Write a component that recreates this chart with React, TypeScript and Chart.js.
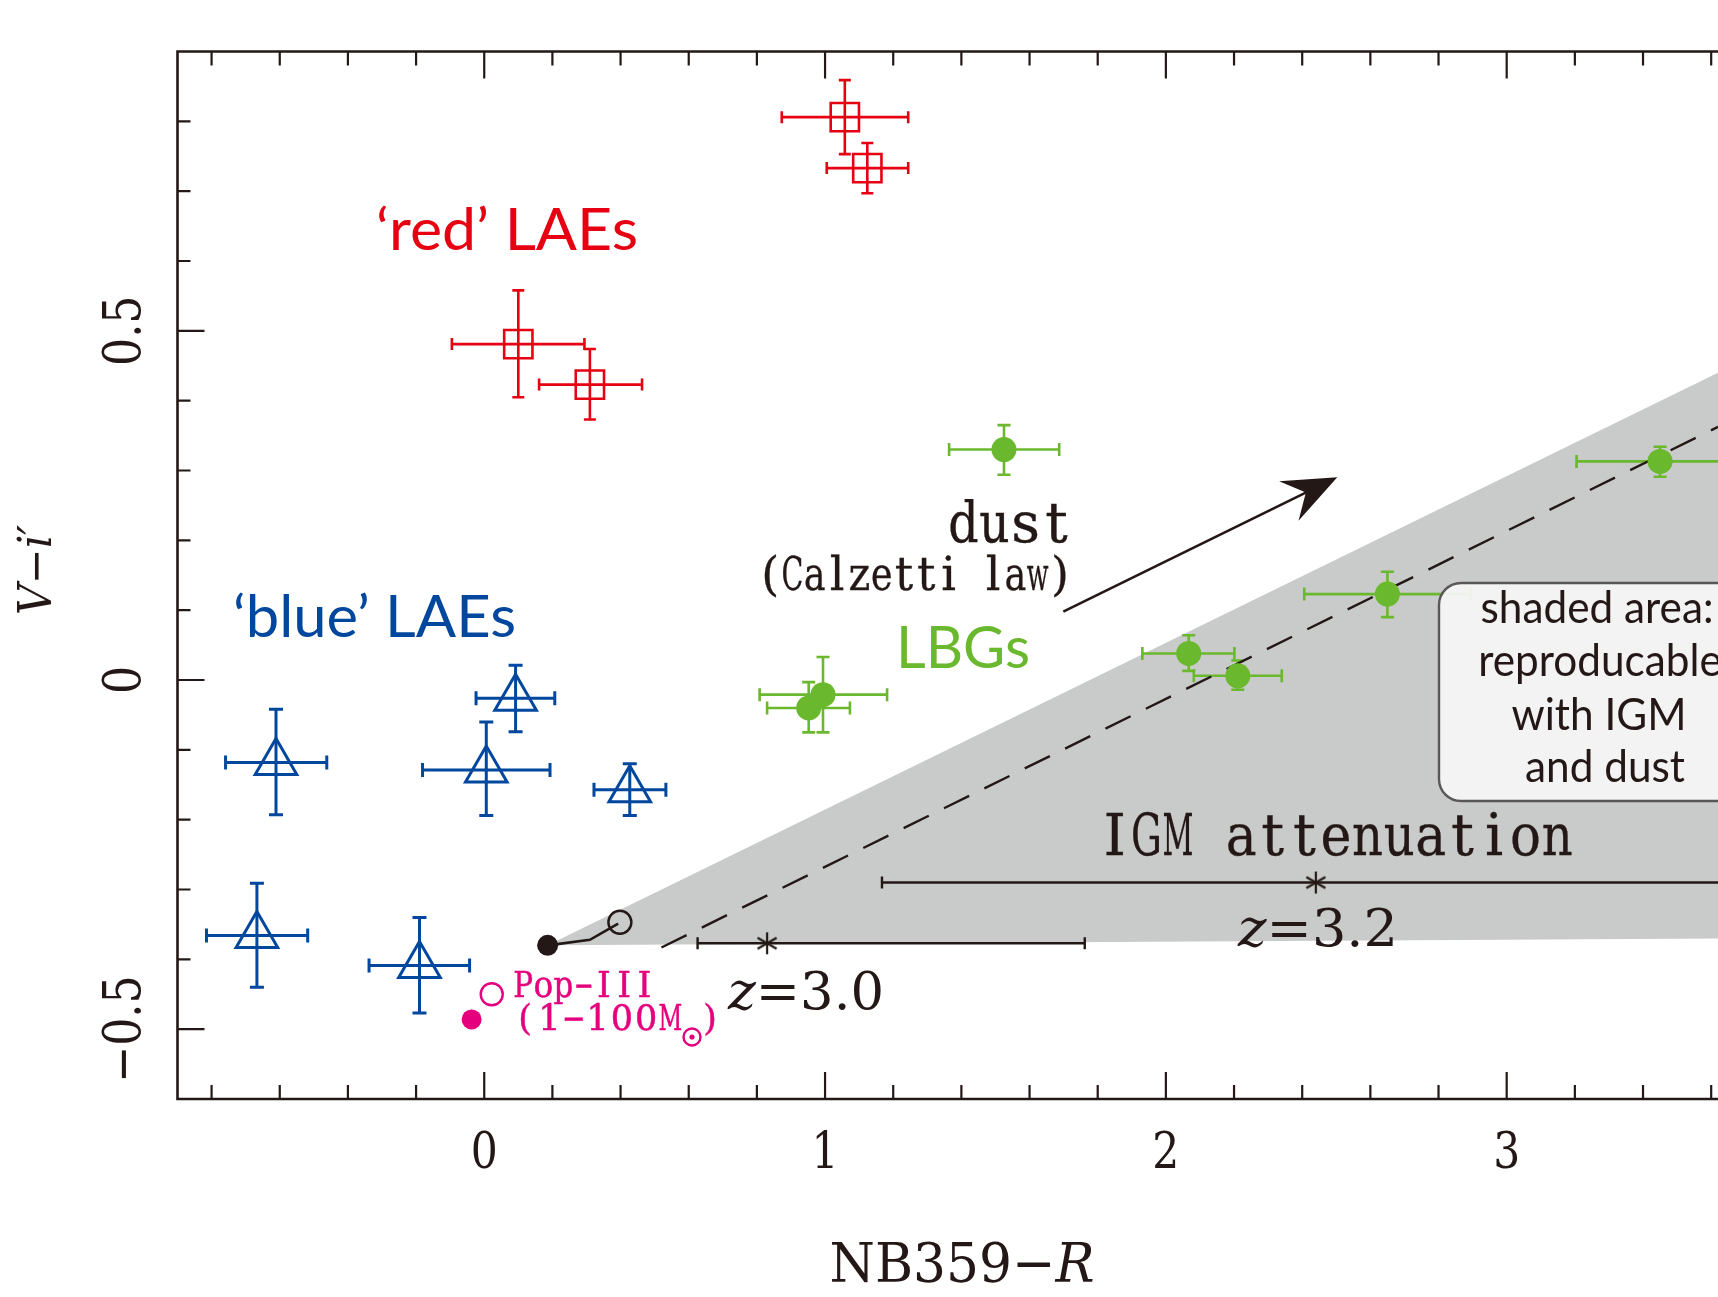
import React, { useEffect, useRef } from "react";
import { Chart, registerables } from "chart.js";

Chart.register(...registerables);

// ---------- axes ----------
const xRange = [-0.9, 3.62];
const yRange = [-0.6, 0.9];
const xMajorTicks = [0, 1, 2, 3];
const xTickLabels = ["0", "1", "2", "3"];
const xMinorTicks = [-0.8, -0.6, -0.4, -0.2, 0.2, 0.4, 0.6, 0.8, 1.2, 1.4, 1.6, 1.8, 2.2, 2.4, 2.6, 2.8, 3.2, 3.4, 3.6];
const yMajorTicks = [-0.5, 0, 0.5];
const yTickLabels = ["\u22120.5", "0", "0.5"];
const yMinorTicks = [-0.4, -0.3, -0.2, -0.1, 0.1, 0.2, 0.3, 0.4, 0.6, 0.7, 0.8];

// ---------- 'red' LAEs ----------
const redX = [1.058, 1.124, 0.1, 0.31];
const redY = [0.806, 0.733, 0.481, 0.423];
const redXLo = [0.873, 1.005, -0.095, 0.161];
const redXHi = [1.244, 1.244, 0.294, 0.463];
const redYLo = [0.753, 0.697, 0.405, 0.373];
const redYHi = [0.859, 0.769, 0.558, 0.474];

// ---------- 'blue' LAEs ----------
const blueX = [-0.611, 0.006, 0.092, 0.427, -0.667, -0.19];
const blueY = [-0.118, -0.129, -0.026, -0.157, -0.366, -0.409];
const blueXLo = [-0.759, -0.181, -0.024, 0.322, -0.815, -0.338];
const blueXHi = [-0.462, 0.193, 0.207, 0.533, -0.518, -0.043];
const blueYLo = [-0.193, -0.194, -0.074, -0.194, -0.44, -0.477];
const blueYHi = [-0.042, -0.06, 0.021, -0.12, -0.291, -0.34];

// ---------- LBGs ----------
const lbgX = [1.525, 0.994, 0.952, 2.067, 2.211, 2.65, 3.45];
const lbgY = [0.33, -0.021, -0.04, 0.038, 0.006, 0.123, 0.313];
const lbgXLo = [1.364, 0.808, 0.83, 1.931, 2.082, 2.406, 3.205];
const lbgXHi = [1.687, 1.182, 1.073, 2.201, 2.34, 2.894, 3.695];
const lbgYLo = [0.294, -0.075, -0.075, 0.013, -0.014, 0.09, 0.291];
const lbgYHi = [0.365, 0.033, -0.003, 0.064, 0.028, 0.155, 0.334];

// ---------- Pop-III ----------
const popFilledX = [-0.037];
const popFilledY = [-0.486];
const popOpenX = [0.022];
const popOpenY = [-0.45];

// ---------- model track ----------
const trackX = [0.186, 0.31, 0.393];
const trackY = [-0.38, -0.372, -0.349];
const trackStartX = [0.186];
const trackStartY = [-0.38];
const trackEndX = [0.398];
const trackEndY = [-0.347];

// ---------- shaded region, dust vector ----------
const shadeX = [0.186, 3.62, 3.62];
const shadeY = [-0.38, 0.44, -0.37];
const dustLineX = [0.52, 3.62];
const dustLineY = [-0.383, 0.3625];
const dustArrowX = [1.699, 2.503];
const dustArrowY = [0.098, 0.2905];

// ---------- IGM attenuation bars ----------
const igm30X = [0.626, 1.762];
const igm30Y = [-0.377, -0.377];
const igm30StarX = [0.83];
const igm32X = [1.167, 3.8];
const igm32Y = [-0.29, -0.29];
const igm32StarX = [2.44];

const RED = "#e60012";
const BLUE = "#00479d";
const GREEN = "#6ab82e";
const MAGENTA = "#e5007e";
const BLACK = "#231815";
const GRAY = "#c9caca";

const pts = (xs: number[], ys: number[]) => xs.map((x, i) => ({ x, y: ys[i] }));

type Run = { t: string; font: string };

function drawRuns(
  ctx: CanvasRenderingContext2D,
  runs: Run[],
  x: number,
  y: number,
  color: string,
  align: "left" | "center" | "right",
  opt: { width?: number; sx?: number; rotate?: number } = {}
) {
  ctx.save();
  ctx.fillStyle = color;
  ctx.textBaseline = "alphabetic";
  ctx.textAlign = "left";
  let total = 0;
  const ws = runs.map((r) => {
    ctx.font = r.font;
    const w = ctx.measureText(r.t).width;
    total += w;
    return w;
  });
  const sx = opt.width ? opt.width / total : opt.sx ?? 1;
  ctx.translate(x, y);
  if (opt.rotate) ctx.rotate(opt.rotate);
  ctx.scale(sx, 1);
  let cur = align === "left" ? 0 : align === "center" ? -total / 2 : -total;
  runs.forEach((r, i) => {
    ctx.font = r.font;
    ctx.fillText(r.t, cur, 0);
    cur += ws[i];
  });
  ctx.restore();
  return total * sx;
}

// typewriter-like text: every glyph centred in an equal cell
function drawMono(
  ctx: CanvasRenderingContext2D,
  text: string,
  left: number,
  y: number,
  cell: number,
  font: string,
  color: string,
  maxSx = 1,
  bold = 0.4
) {
  ctx.save();
  ctx.font = font;
  ctx.fillStyle = color;
  ctx.strokeStyle = color;
  ctx.lineWidth = bold;
  ctx.textAlign = "center";
  ctx.textBaseline = "alphabetic";
  Array.from(text).forEach((ch, i) => {
    if (ch === " ") return;
    const w = ctx.measureText(ch).width;
    const s = Math.min(maxSx, (cell * 0.98) / w);
    ctx.save();
    ctx.translate(left + cell * (i + 0.5), y);
    ctx.scale(s, 1);
    ctx.fillText(ch, 0, 0);
    if (bold > 0) ctx.strokeText(ch, 0, 0);
    ctx.restore();
  });
  ctx.restore();
}

function makeStar(): HTMLCanvasElement {
  const c = document.createElement("canvas");
  c.width = 28;
  c.height = 28;
  const g = c.getContext("2d")!;
  g.strokeStyle = BLACK;
  g.lineWidth = 2.2;
  const r = 11;
  for (const a of [90, 30, 150]) {
    const rad = (a * Math.PI) / 180;
    g.beginPath();
    g.moveTo(14 - Math.cos(rad) * r, 14 - Math.sin(rad) * r);
    g.lineTo(14 + Math.cos(rad) * r, 14 + Math.sin(rad) * r);
    g.stroke();
  }
  return c;
}

const decor = {
  id: "decor",
  beforeDatasetsDraw(chart: any) {
    const { ctx, scales, chartArea } = chart;
    const X = (v: number) => scales.x.getPixelForValue(v);
    const Y = (v: number) => scales.y.getPixelForValue(v);
    ctx.save();
    ctx.beginPath();
    ctx.rect(chartArea.left, chartArea.top, chartArea.right - chartArea.left, chartArea.bottom - chartArea.top);
    ctx.clip();
    // shaded area
    ctx.fillStyle = GRAY;
    ctx.beginPath();
    shadeX.forEach((x, i) => (i === 0 ? ctx.moveTo(X(x), Y(shadeY[i])) : ctx.lineTo(X(x), Y(shadeY[i]))));
    ctx.closePath();
    ctx.fill();

    const err = (
      xs: number[], ys: number[], xlo: number[], xhi: number[], ylo: number[], yhi: number[],
      color: string, lw: number, cap: number
    ) => {
      ctx.strokeStyle = color;
      ctx.lineWidth = lw;
      ctx.lineCap = "butt";
      xs.forEach((xv, i) => {
        const px = X(xv), py = Y(ys[i]);
        const x1 = X(xlo[i]), x2 = X(xhi[i]), y1 = Y(ylo[i]), y2 = Y(yhi[i]);
        ctx.beginPath();
        ctx.moveTo(x1, py); ctx.lineTo(x2, py);
        ctx.moveTo(x1, py - cap); ctx.lineTo(x1, py + cap);
        ctx.moveTo(x2, py - cap); ctx.lineTo(x2, py + cap);
        ctx.moveTo(px, y1); ctx.lineTo(px, y2);
        ctx.moveTo(px - cap, y1); ctx.lineTo(px + cap, y1);
        ctx.moveTo(px - cap, y2); ctx.lineTo(px + cap, y2);
        ctx.stroke();
      });
    };
    err(redX, redY, redXLo, redXHi, redYLo, redYHi, RED, 2.6, 6);
    err(blueX, blueY, blueXLo, blueXHi, blueYLo, blueYHi, BLUE, 3, 7);
    err(lbgX, lbgY, lbgXLo, lbgXHi, lbgYLo, lbgYHi, GREEN, 2.6, 6.5);
    ctx.restore();
  },
  afterDatasetsDraw(chart: any) {
    const { ctx, scales, chartArea } = chart;
    const X = (v: number) => scales.x.getPixelForValue(v);
    const Y = (v: number) => scales.y.getPixelForValue(v);

    // dust arrow
    const tx = X(dustArrowX[0]), ty = Y(dustArrowY[0]);
    const hx = X(dustArrowX[1]), hy = Y(dustArrowY[1]);
    const len = Math.hypot(hx - tx, hy - ty);
    const ux = (hx - tx) / len, uy = (hy - ty) / len;
    const nx = -uy, ny = ux;
    ctx.save();
    ctx.strokeStyle = BLACK;
    ctx.fillStyle = BLACK;
    ctx.lineWidth = 2.6;
    ctx.beginPath();
    ctx.moveTo(tx, ty);
    ctx.lineTo(hx - ux * 30, hy - uy * 30);
    ctx.stroke();
    const hl = 54, hw = 22, notch = 35;
    ctx.beginPath();
    ctx.moveTo(hx, hy);
    ctx.lineTo(hx - ux * hl + nx * hw, hy - uy * hl + ny * hw);
    ctx.lineTo(hx - ux * notch, hy - uy * notch);
    ctx.lineTo(hx - ux * hl - nx * hw, hy - uy * hl - ny * hw);
    ctx.closePath();
    ctx.fill();
    ctx.restore();

    // text labels
    const lato = (s: number) => `${s}px Lato`;
    const serif = (s: number) => `${s}px "DejaVu Serif"`;
    const serifIt = (s: number) => `italic ${s}px "DejaVu Serif"`;

    drawRuns(ctx, [{ t: "\u2018red\u2019 LAEs", font: lato(58) }], 376, 250, RED, "left", { width: 262 });
    drawRuns(ctx, [{ t: "\u2018blue\u2019 LAEs", font: lato(58) }], 233, 637, BLUE, "left", { width: 283 });
    drawRuns(ctx, [{ t: "LBGs", font: lato(58) }], 896, 668, GREEN, "left", { width: 134 });

    drawMono(ctx, "dust", 948, 542, 31, serif(56), BLACK, 1, 0.4);
    drawMono(ctx, "(Calzetti law)", 759, 590, 22.3, serif(46), BLACK, 1, 0.3);
    drawMono(ctx, "IGM attenuation", 1099, 855, 31.6, serif(57), BLACK, 1, 0.3);

    drawRuns(ctx, [{ t: "z", font: serifIt(53) }, { t: "=3.2", font: serif(53) }], 1238, 946, BLACK, "left", { width: 160 });
    drawRuns(ctx, [{ t: "z", font: serifIt(53) }, { t: "=3.0", font: serif(53) }], 728, 1009, BLACK, "left", { width: 156 });

    drawMono(ctx, "Pop\u2212III", 513, 997, 20.2, serif(35), MAGENTA, 1, 0.5);
    drawMono(ctx, "(1\u2212100M", 513, 1030, 24.2, serif(35), MAGENTA, 1, 0.5);
    drawMono(ctx, ")", 702, 1030, 16, serif(35), MAGENTA, 1, 0.5);
    ctx.save();
    ctx.strokeStyle = MAGENTA;
    ctx.fillStyle = MAGENTA;
    ctx.lineWidth = 2.4;
    ctx.beginPath();
    ctx.arc(692, 1037, 8.5, 0, Math.PI * 2);
    ctx.stroke();
    ctx.beginPath();
    ctx.arc(692, 1037, 2.6, 0, Math.PI * 2);
    ctx.fill();
    ctx.restore();

    // rounded note box
    const bl = 1439, bt = 583, bb = 801, br = 1760, rr = 22;
    ctx.save();
    ctx.beginPath();
    ctx.moveTo(bl + rr, bt);
    ctx.lineTo(br, bt);
    ctx.lineTo(br, bb);
    ctx.lineTo(bl + rr, bb);
    ctx.arcTo(bl, bb, bl, bb - rr, rr);
    ctx.lineTo(bl, bt + rr);
    ctx.arcTo(bl, bt, bl + rr, bt, rr);
    ctx.closePath();
    ctx.fillStyle = "rgba(246,246,246,0.93)";
    ctx.fill();
    ctx.strokeStyle = "#595757";
    ctx.lineWidth = 2.4;
    ctx.stroke();
    ctx.restore();
    ctx.save();
    ctx.font = lato(45);
    const boxSx = 233 / ctx.measureText("shaded area:").width;
    ctx.restore();
    drawRuns(ctx, [{ t: "shaded area:", font: lato(45) }], 1597, 623, BLACK, "center", { sx: boxSx });
    drawRuns(ctx, [{ t: "reproducable", font: lato(45) }], 1600, 676, BLACK, "center", { sx: boxSx });
    drawRuns(ctx, [{ t: "with IGM", font: lato(45) }], 1599, 730, BLACK, "center", { sx: boxSx });
    drawRuns(ctx, [{ t: "and dust", font: lato(45) }], 1605, 782, BLACK, "center", { sx: boxSx });

    // frame and ticks
    const { left, top, bottom, right } = chartArea;
    ctx.save();
    ctx.strokeStyle = BLACK;
    ctx.lineWidth = 2.6;
    ctx.beginPath();
    ctx.moveTo(right + 5, top);
    ctx.lineTo(left, top);
    ctx.lineTo(left, bottom);
    ctx.lineTo(right + 5, bottom);
    ctx.stroke();
    ctx.lineWidth = 2.2;
    ctx.beginPath();
    const xt = (v: number, l: number) => {
      const p = X(v);
      ctx.moveTo(p, bottom); ctx.lineTo(p, bottom - l);
      ctx.moveTo(p, top); ctx.lineTo(p, top + l);
    };
    const yt = (v: number, l: number) => {
      const p = Y(v);
      ctx.moveTo(left, p); ctx.lineTo(left + l, p);
    };
    xMinorTicks.forEach((v) => xt(v, 14));
    xMajorTicks.forEach((v) => xt(v, 27));
    yMinorTicks.forEach((v) => yt(v, 13));
    yMajorTicks.forEach((v) => yt(v, 27));
    ctx.stroke();
    ctx.restore();

    xMajorTicks.forEach((v, i) =>
      drawRuns(ctx, [{ t: xTickLabels[i], font: serif(50) }], X(v), 1168, BLACK, "center", { sx: 0.85 })
    );
    yMajorTicks.forEach((v, i) =>
      drawRuns(ctx, [{ t: yTickLabels[i], font: serif(52) }], 140, Y(v), BLACK, "center", { sx: 0.85, rotate: -Math.PI / 2 })
    );
    drawRuns(ctx, [{ t: "NB359\u2212", font: serif(55) }, { t: "R", font: serifIt(55) }], 962, 1282, BLACK, "center", { width: 265 });
    drawRuns(ctx, [{ t: "V", font: serifIt(46) }, { t: "\u2212", font: serif(46) }, { t: "i\u2032", font: serifIt(46) }], 51, 570, BLACK, "center", { width: 90, rotate: -Math.PI / 2 });
  },
};

export default function App() {
  const ref = useRef<HTMLCanvasElement>(null);
  useEffect(() => {
    const canvas = ref.current!;
    const star = makeStar();
    const chart = new Chart(canvas, {
      type: "scatter",
      data: {
        datasets: [
          {
            label: "LBGs",
            data: pts(lbgX, lbgY),
            pointStyle: "circle",
            pointRadius: 12.5,
            backgroundColor: GREEN,
            borderColor: GREEN,
            borderWidth: 0,
          },
          {
            label: "red LAEs",
            data: pts(redX, redY),
            pointStyle: "rect",
            pointRadius: 20,
            backgroundColor: "rgba(0,0,0,0)",
            borderColor: RED,
            borderWidth: 2.6,
          },
          {
            label: "blue LAEs",
            data: pts(blueX, blueY),
            pointStyle: "triangle",
            pointRadius: 24,
            backgroundColor: "rgba(0,0,0,0)",
            borderColor: BLUE,
            borderWidth: 3,
          },
          {
            label: "Pop-III filled",
            data: pts(popFilledX, popFilledY),
            pointRadius: 10,
            backgroundColor: MAGENTA,
            borderColor: MAGENTA,
            borderWidth: 0,
          },
          {
            label: "Pop-III open",
            data: pts(popOpenX, popOpenY),
            pointRadius: 11,
            backgroundColor: "rgba(0,0,0,0)",
            borderColor: MAGENTA,
            borderWidth: 2.4,
          },
          {
            label: "track start",
            data: pts(trackStartX, trackStartY),
            pointRadius: 10.5,
            backgroundColor: BLACK,
            borderColor: BLACK,
            borderWidth: 0,
          },
          {
            label: "track end",
            data: pts(trackEndX, trackEndY),
            pointRadius: 11.5,
            backgroundColor: "rgba(0,0,0,0)",
            borderColor: BLACK,
            borderWidth: 2.4,
          },
          {
            label: "track",
            data: pts(trackX, trackY),
            showLine: true,
            pointRadius: 0,
            borderColor: BLACK,
            borderWidth: 2.6,
          },
          {
            label: "stars",
            data: [
              { x: igm30StarX[0], y: igm30Y[0] },
              { x: igm32StarX[0], y: igm32Y[0] },
            ],
            pointStyle: star as any,
            pointRadius: 12,
          },
          {
            label: "z=3.0",
            data: pts(igm30X, igm30Y),
            showLine: true,
            borderColor: BLACK,
            borderWidth: 2.6,
            pointStyle: "line",
            rotation: 90,
            pointRadius: 6,
            pointBorderColor: BLACK,
            pointBorderWidth: 2.4,
          },
          {
            label: "z=3.2",
            data: pts(igm32X, igm32Y),
            showLine: true,
            borderColor: BLACK,
            borderWidth: 2.6,
            pointStyle: "line",
            rotation: 90,
            pointRadius: 6,
            pointBorderColor: BLACK,
            pointBorderWidth: 2.4,
          },
          {
            label: "dust line",
            data: pts(dustLineX, dustLineY),
            showLine: true,
            pointRadius: 0,
            borderColor: BLACK,
            borderWidth: 2.4,
            borderDash: [28, 17],
          },
        ] as any,
      },
      options: {
        responsive: false,
        animation: false,
        devicePixelRatio: 1,
        events: [],
        layout: { autoPadding: false, padding: { left: 177.5, right: 0, top: 51.5, bottom: 198 } },
        plugins: { legend: { display: false }, tooltip: { enabled: false } },
        scales: {
          x: { type: "linear", min: xRange[0], max: xRange[1], display: false },
          y: { type: "linear", min: yRange[0], max: yRange[1], display: false },
        },
      },
      plugins: [decor],
    });
    return () => chart.destroy();
  }, []);
  return (
    <div style={{ position: "fixed", left: 0, top: 0, width: 1718, height: 1297, background: "#fff", overflow: "hidden" }}>
      <canvas ref={ref} width={1718} height={1297} style={{ display: "block", width: 1718, height: 1297 }} />
    </div>
  );
}
